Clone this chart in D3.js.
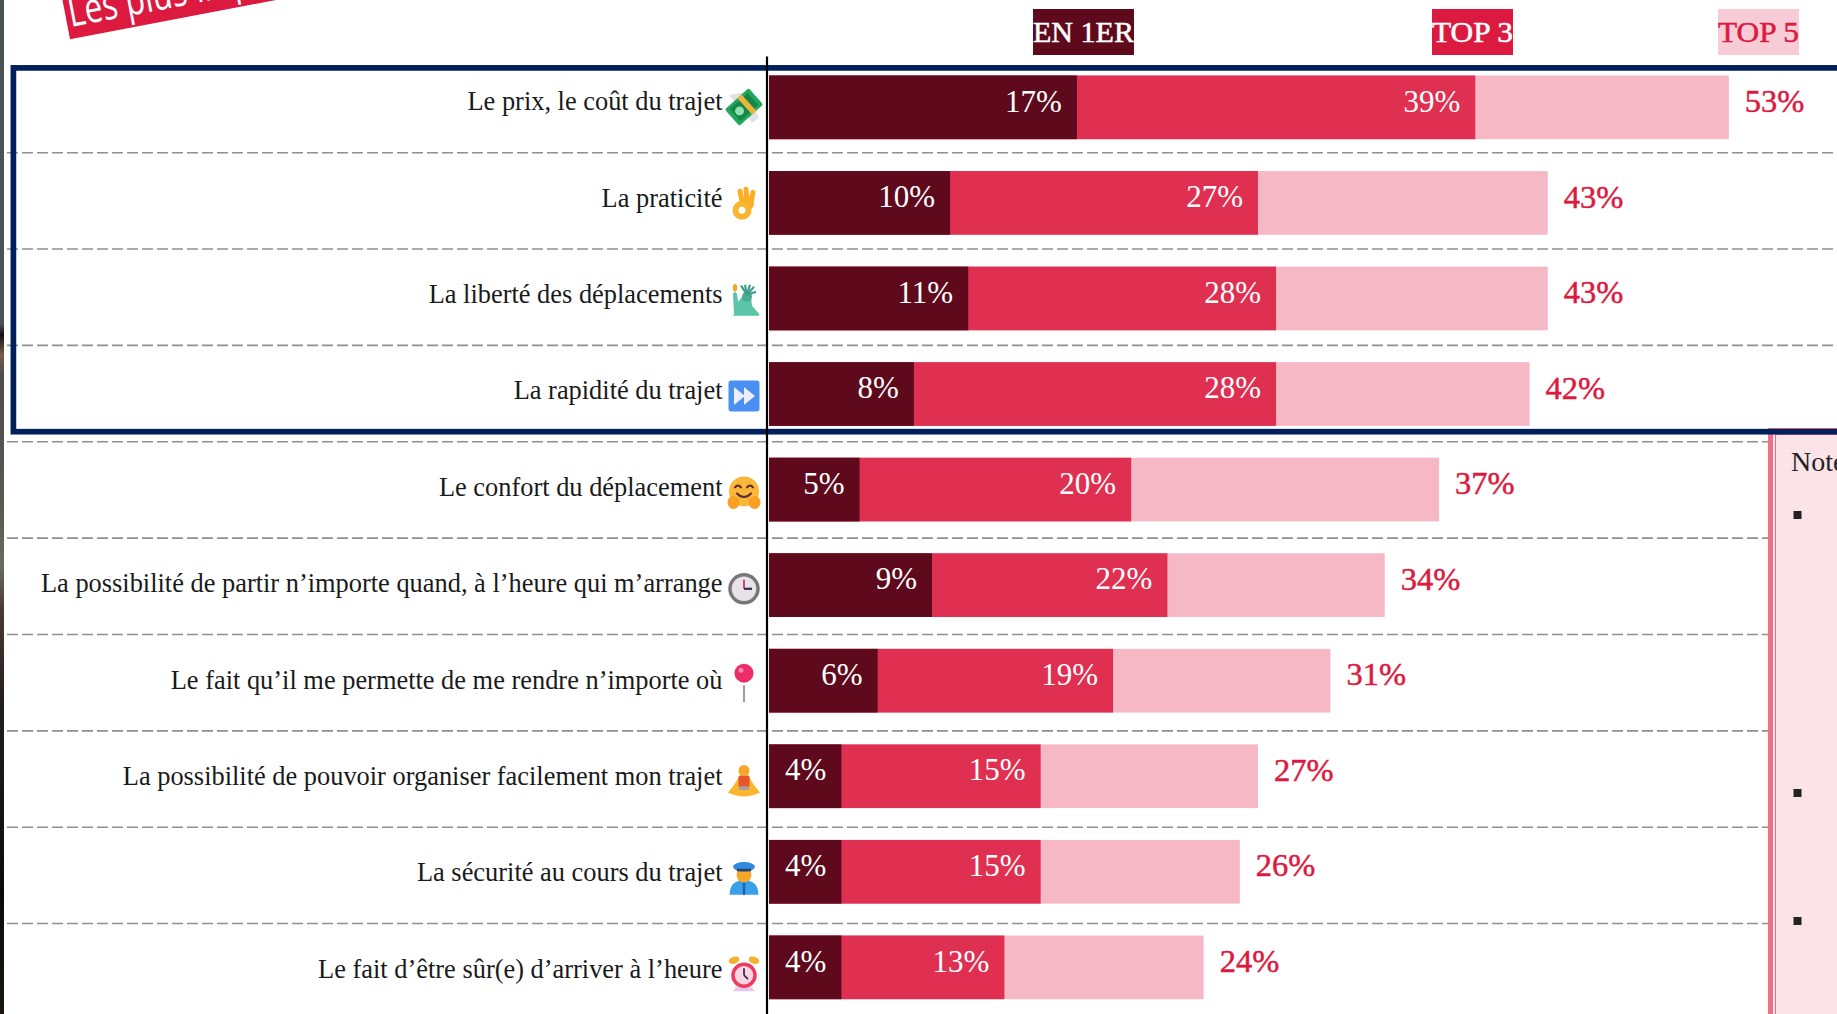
<!DOCTYPE html>
<html lang="fr">
<head>
<meta charset="utf-8">
<title>Les plus importants</title>
<script src="https://cdn.jsdelivr.net/npm/d3@7"></script>
<style>
html,body{margin:0;padding:0;background:#fff;overflow:hidden}
svg{display:block}
text{font-family:"Liberation Serif",serif}
</style>
</head>
<body>
<svg id="chart" width="1837" height="1014"></svg>
<script>
const categories = [
  "Le prix, le coût du trajet",
  "La praticité",
  "La liberté des déplacements",
  "La rapidité du trajet",
  "Le confort du déplacement",
  "La possibilité de partir n’importe quand, à l’heure qui m’arrange",
  "Le fait qu’il me permette de me rendre n’importe où",
  "La possibilité de pouvoir organiser facilement mon trajet",
  "La sécurité au cours du trajet",
  "Le fait d’être sûr(e) d’arriver à l’heure"
];
const icons = ["money","ok","statue","forward","hug","clock","pin","meditate","officer","alarm"];
const en1er = [17,10,11,8,5,9,6,4,4,4];
const top3  = [39,27,28,28,20,22,19,15,15,13];
const top5  = [53,43,43,42,37,34,31,27,26,24];
const legendLabels = ["EN 1ER","TOP 3","TOP 5"];
const titleText = "Les plus importants";
const noteText = "Note";

const C = {dark:"#5e0a1c",mid:"#e03052",light:"#f7b8c6",red:"#dc1a40",pale:"#f8ccd6",navy:"#00205b"};
const svg = d3.select("#chart");

const x = d3.scaleLinear().domain([0,100]).range([769,769+1811]);
const barY = d3.scalePoint().domain(categories).range([75.5,935.5]);
const rowY = d3.scalePoint().domain(categories).range([152.7,1019.9]);
const barH = 63.7;

// left photo sliver
const defs = svg.append("defs");
const grad = defs.append("linearGradient").attr("id","sliver").attr("x1",0).attr("x2",0).attr("y1",0).attr("y2",1);
[[0,"#4a5254"],[.32,"#4a5254"],[.33,"#111"],[.35,"#7a5a48"],[.37,"#4c4c4c"],[.5,"#5a5a52"],[.56,"#6a6a60"],[.6,"#4a3a35"],[.69,"#241f1c"],[.88,"#0c0a08"],[1,"#1a1510"]]
  .forEach(d=>grad.append("stop").attr("offset",d[0]).attr("stop-color",d[1]));
svg.append("rect").attr("width",4).attr("height",1014).attr("fill","url(#sliver)");

// ribbon
const rib = svg.append("g").attr("transform","translate(70,39.3) rotate(-10.8)");
rib.append("rect").attr("x",0).attr("y",-100).attr("width",400).attr("height",100).attr("fill",C.red);
rib.append("text").attr("transform","translate(3,-12) scale(.76,1)").attr("fill","#fff")
  .style("font-family","'Open Sans',sans-serif").style("font-size","42px").text(titleText);

// dashed row lines
svg.append("g").selectAll("line").data(categories).join("line")
  .attr("x1",7).attr("x2",(d,i)=>i<3?1837:1772)
  .attr("y1",d=>rowY(d)).attr("y2",d=>rowY(d))
  .attr("stroke","#909090").attr("stroke-width",1.6).attr("stroke-dasharray","11 4");

// note panel
const note = svg.append("g");
note.append("rect").attr("x",1768).attr("y",428).attr("width",69).attr("height",586).attr("fill","#f07088");
note.append("rect").attr("x",1773).attr("y",434).attr("width",64).attr("height",580).attr("fill","#fde9ee");
note.append("rect").attr("x",1775).attr("y",434).attr("width",62).attr("height",580).attr("fill","#e86f88");
note.append("rect").attr("x",1776).attr("y",435).attr("width",61).attr("height",579).attr("fill","#fbe3e8");
note.append("text").attr("x",1791).attr("y",471).attr("fill","#222").style("font-size","28px").text(noteText);
note.selectAll("rect.b").data([511,789,917]).join("rect").attr("class","b")
  .attr("x",1793.5).attr("y",d=>d).attr("width",8).attr("height",8).attr("fill","#222");

// highlight frame
svg.append("rect").attr("x",13.4).attr("y",67.9).attr("width",2000).attr("height",363.8)
  .attr("fill","none").attr("stroke",C.navy).attr("stroke-width",5.7);

// bars (cumulative, overlapping from the axis)
const rows = categories.map((c,i)=>({c,a:en1er[i],b:top3[i],t:top5[i],icon:icons[i]}));
const g = svg.append("g");
[["t",C.light],["b",C.mid],["a",C.dark]].forEach(([k,col])=>{
  g.append("g").selectAll("rect").data(rows).join("rect")
    .attr("x",x(0)).attr("y",d=>barY(d.c)).attr("height",barH)
    .attr("width",d=>x(d[k])-x(0)).attr("fill",col);
});
["a","b"].forEach(k=>{
  g.append("g").selectAll("text").data(rows).join("text")
    .attr("x",d=>x(d[k])-15).attr("y",d=>barY(d.c)+36)
    .attr("text-anchor","end").attr("fill","#fff").style("font-size","31px")
    .text(d=>d[k]+"%");
});
g.append("g").selectAll("text").data(rows).join("text")
  .attr("x",d=>x(d.t)+16).attr("y",d=>barY(d.c)+36.5)
  .attr("fill",C.red).style("font-size","32.5px").style("stroke",C.red).style("stroke-width",".5px")
  .text(d=>d.t+"%");

// category labels
svg.append("g").selectAll("text").data(rows).join("text")
  .attr("x",722.5).attr("y",d=>rowY(d.c)-42.3).attr("text-anchor","end")
  .attr("fill","#1a1a1a").style("font-size","26.4px").text(d=>d.c);

// axis line
svg.append("line").attr("x1",767).attr("x2",767).attr("y1",56.5).attr("y2",1014)
  .attr("stroke","#000").attr("stroke-width",2.2);

// legend
const legendBoxes = [[1033,101,C.dark,"#fff"],[1432,81,C.red,"#fff"],[1718,81,C.pale,C.red]];
legendLabels.forEach((t,i)=>{
  const [lx,w,fill,col]=legendBoxes[i];
  svg.append("rect").attr("x",lx).attr("y",9).attr("width",w).attr("height",46).attr("fill",fill);
  svg.append("text").attr("x",lx).attr("y",42).attr("fill",col).style("font-size","29px")
    .style("stroke",col).style("stroke-width",".5px")
    .attr("textLength",w).attr("lengthAdjust","spacingAndGlyphs").text(t);
});

// pictograms
const draw = {
  money(s){
    s.append("path").attr("d","M-15,-12 L2,-15 L15,11 L8,16 Z").attr("fill","#dfe3e3");
    const r=s.append("g").attr("transform","rotate(-42)");
    r.append("rect").attr("x",-16).attr("y",-11).attr("width",32).attr("height",22).attr("rx",2).attr("fill","#22a85a");
    r.append("rect").attr("x",-12).attr("y",-8).attr("width",24).attr("height",16).attr("fill","#17864a");
    r.append("circle").attr("r",4.5).attr("cx",-6).attr("fill","#8fe0b0");
    r.append("rect").attr("x",1).attr("y",-11).attr("width",5.5).attr("height",22).attr("fill","#f2b33a");
  },
  ok(s){
    s.append("circle").attr("cx",3).attr("cy",0).attr("r",7).attr("fill","#fcae23");
    [[-4,-12,-2,-2],[2,-14,3,-2],[9,-11,7,-1]].forEach(p=>s.append("line").attr("x1",p[0]).attr("y1",p[1]).attr("x2",p[2]).attr("y2",p[3])
      .attr("stroke","#fcae23").attr("stroke-width",5).attr("stroke-linecap","round"));
    s.append("circle").attr("cx",-2).attr("cy",7).attr("r",6.5).attr("fill","#fff").attr("stroke","#fbb52c").attr("stroke-width",6);
  },
  statue(s){
    s.append("path").attr("d","M-10,15 L-11,-6 L-9,-8 L-7,-6 L-6,2 L-1,-4 L7,-4 L8,6 L15,14 L15,16 L-12,16 Z").attr("fill","#5cc4a8");
    s.append("circle").attr("cx",3).attr("cy",-3).attr("r",5).attr("fill","#48ab92");
    [[-3,-14],[1,-15],[6,-15],[10,-13],[12,-8]].forEach(p=>s.append("line").attr("x1",3).attr("y1",-5).attr("x2",p[0]).attr("y2",p[1]).attr("stroke","#3f9e88").attr("stroke-width",2.2));
    s.append("ellipse").attr("cx",-9).attr("cy",-12).attr("rx",2.2).attr("ry",3.8).attr("fill","#f5a623");
  },
  forward(s){
    s.append("rect").attr("x",-15.5).attr("y",-15.5).attr("width",31).attr("height",31).attr("rx",3).attr("fill","#4a90f0");
    s.append("path").attr("d","M-10,-9 L1,0 L-10,9 Z M0,-9 L11,0 L0,9 Z").attr("fill","#f0ecff");
  },
  hug(s){
    s.append("circle").attr("cy",-1).attr("r",15).attr("fill","#fbb738");
    s.append("path").attr("d","M-9,-5 Q-6,-9 -3,-5 M3,-5 Q6,-9 9,-5 M-7,1 Q0,8 7,1").attr("fill","none").attr("stroke","#5a2a3a").attr("stroke-width",2).attr("stroke-linecap","round");
    s.append("ellipse").attr("cx",-10.5).attr("cy",10).attr("rx",6).attr("ry",6.5).attr("fill","#fca024");
    s.append("ellipse").attr("cx",10.5).attr("cy",10).attr("rx",6).attr("ry",6.5).attr("fill","#fca024");
  },
  clock(s){
    s.append("circle").attr("r",14).attr("fill","#e6e4e8").attr("stroke","#77777a").attr("stroke-width",3.5);
    s.append("line").attr("x1",0).attr("y1",0).attr("x2",0).attr("y2",-9).attr("stroke","#d8345a").attr("stroke-width",1.8);
    s.append("line").attr("x1",0).attr("y1",0).attr("x2",8).attr("y2",0).attr("stroke","#3a2a55").attr("stroke-width",2.2);
  },
  pin(s){
    s.append("line").attr("x1",0).attr("y1",0).attr("x2",0).attr("y2",17).attr("stroke","#a89ab0").attr("stroke-width",2.2);
    s.append("circle").attr("cy",-12).attr("r",9.5).attr("fill","#ec2d6a");
    s.append("circle").attr("cx",-3).attr("cy",-15).attr("r",2.5).attr("fill","#f78ab0");
  },
  meditate(s){
    s.append("path").attr("d","M-16,11 Q-6,-1 -5,-6 L5,-6 Q6,-1 16,11 Q0,19 -16,11 Z").attr("fill","#fbb62e");
    s.append("rect").attr("x",-5.5).attr("y",-6).attr("width",11).attr("height",12).attr("rx",2).attr("fill","#e8562a");
    s.append("rect").attr("x",-5).attr("y",5).attr("width",10).attr("height",3.5).attr("fill","#a8a0a8");
    s.append("circle").attr("cy",-11).attr("r",5.5).attr("fill","#f5a828");
  },
  officer(s){
    s.append("path").attr("d","M-14.5,17 Q-14.5,5 -5,3 L5,3 Q14.5,5 14.5,17 Z").attr("fill","#3aa0ea");
    s.append("rect").attr("x",-1.2).attr("y",5).attr("width",2.4).attr("height",12).attr("fill","#1e5fb0");
    s.append("circle").attr("cy",-3).attr("r",7.5).attr("fill","#f5a828");
    s.append("ellipse").attr("cy",-11).attr("rx",11).attr("ry",4.8).attr("fill","#2f8adf");
    s.append("rect").attr("x",-7).attr("y",-9).attr("width",14).attr("height",2.5).attr("fill","#33405a");
  },
  alarm(s){
    s.append("ellipse").attr("cx",-10).attr("cy",-14).attr("rx",5.5).attr("ry",3.5).attr("transform","rotate(-20,-10,-14)").attr("fill","#f5b12e");
    s.append("ellipse").attr("cx",10).attr("cy",-14).attr("rx",5.5).attr("ry",3.5).attr("transform","rotate(20,10,-14)").attr("fill","#f5b12e");
    s.append("path").attr("d","M-8,13 L8,13 L11,17 L-11,17 Z").attr("fill","#e4c8ee");
    s.append("circle").attr("cy",1).attr("r",11).attr("fill","#fbd5e0").attr("stroke","#ee3a60").attr("stroke-width",3.5);
    s.append("line").attr("x1",0).attr("y1",1).attr("x2",0).attr("y2",-6).attr("stroke","#3a2a55").attr("stroke-width",1.8);
    s.append("line").attr("x1",0).attr("y1",1).attr("x2",4).attr("y2",5).attr("stroke","#3a2a55").attr("stroke-width",1.8);
  }
};
svg.append("g").selectAll("g").data(rows).join("g")
  .attr("transform",d=>`translate(744,${rowY(d.c)-45.7})`)
  .each(function(d){draw[d.icon](d3.select(this));});
</script>
</body>
</html>
